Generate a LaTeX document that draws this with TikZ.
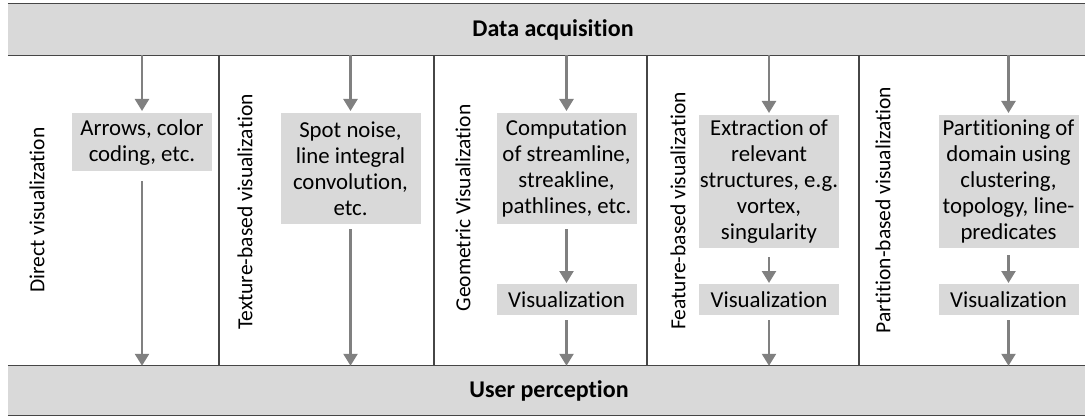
\documentclass[tikz,border=0pt]{standalone}
\usepackage{fontspec}
\setmainfont{Carlito}[Ligatures=NoCommon]
\usetikzlibrary{arrows.meta}
\definecolor{boxgray}{RGB}{217,217,217}
\definecolor{flowgray}{RGB}{128,128,128}
\definecolor{rulegray}{RGB}{70,70,70}
\newcommand{\labelfont}{\fontsize{21.5pt}{26pt}\selectfont}
\newcommand{\stepfont}{\fontsize{22.8pt}{26pt}\selectfont}

\begin{document}
\begin{tikzpicture}[x=1pt, y=-1pt,
    bar/.style = {fill=boxgray, minimum width=1077pt, inner sep=0pt},
    barlabel/.style = {font=\fontsize{24pt}{28pt}\selectfont\bfseries},
    procbox/.style = {fill=boxgray, align=center, minimum width=140pt, inner sep=0pt, anchor=north, font=\stepfont},
    vislabel/.style = {rotate=90, font=\labelfont},
    flow/.style = {draw=flowgray, line width=2.4pt, -{Triangle[width=14pt,length=12pt]}},
    divider/.style = {draw=rulegray, line width=1.3pt}]
    \useasboundingbox (0,0) rectangle (1085,417);

    % bars
    \node[bar, minimum height=51pt] (acq) at (546.5,29.5) {};
    \node[bar, minimum height=49pt] (user) at (546.5,390.5) {};
    \node[barlabel] (acqtext) at (553,29.5) {Data acquisition};
    \node[barlabel] (usertext) at (549,390.5) {User perception};
    \draw[divider] (acq.north west) -- (acq.north east) (acq.south west) -- (acq.south east);
    \draw[divider] (user.north west) -- (user.north east) (user.south west) -- (user.south east);
    \foreach \x in {219,434,647,859}
        \draw[divider] (\x,0 |- acq.south) -- (\x,0 |- user.north);

    % column titles
    \node[vislabel] (direct)    at (37,210)  {Direct visualization};
    \node[vislabel] (texture)   at (245,212) {Texture-based visualization};
    \node[vislabel] (geometric) at (463,208) {Geometric Visualization};
    \node[vislabel] (feature)   at (678,211) {Feature-based visualization};
    \node[vislabel] (partition) at (883,210) {Partition-based visualization};

    % steps
    \node[procbox, minimum height=58pt]  (arrows)  at (142,113)   {Arrows, color\\coding, etc.};
    \node[procbox, minimum height=111pt] (spot)    at (350.5,113) {Spot noise,\\line integral\\convolution,\\etc.};
    \node[procbox, minimum height=111pt] (stream)  at (566.5,113) {Computation\\of streamline,\\streakline,\\pathlines, etc.};
    \node[procbox, minimum height=133pt] (extract) at (769,115)   {Extraction of\\relevant\\structures, e.g.\\vortex,\\singularity};
    \node[procbox, minimum height=133pt] (domain)  at (1008.5,115) {Partitioning of\\domain using\\clustering,\\topology, line-\\predicates};
    \node[procbox, minimum height=31pt] (visgeo)  at (566.5,284) {Visualization};
    \node[procbox, minimum height=31pt] (visfeat) at (769,284)   {Visualization};
    \node[procbox, minimum height=31pt] (vispart) at (1008.5,284) {Visualization};

    % flow
    \foreach \n in {arrows,spot,stream,extract,domain}
        \draw[flow, shorten >=2pt] (\n.north |- acq.south) -- (\n.north);
    \draw[flow, shorten <=10pt] (arrows.south) -- (arrows.south |- user.north);
    \draw[flow, shorten <=5pt] (spot.south) -- (spot.south |- user.north);
    \draw[flow, shorten <=5pt, shorten >=1pt] (stream) -- (visgeo);
    \draw[flow, shorten <=9pt, shorten >=1pt] (extract) -- (visfeat);
    \draw[flow, shorten <=7pt, shorten >=1pt] (domain) -- (vispart);
    \foreach \n in {visgeo,visfeat,vispart}
        \draw[flow, shorten <=5pt] (\n.south) -- (\n.south |- user.north);
\end{tikzpicture}
\end{document}
